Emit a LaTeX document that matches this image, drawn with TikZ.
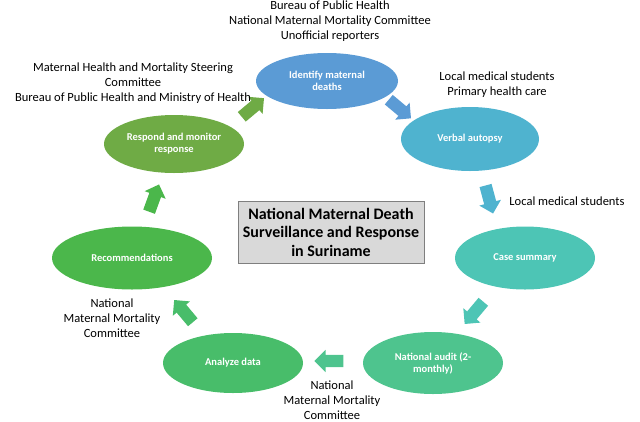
\documentclass[tikz,border=0pt]{standalone}
\usepackage{fontspec}
\setmainfont{Carlito}
\usetikzlibrary{shapes.geometric,shapes.arrows,calc}
\definecolor{cA}{HTML}{5B9BD5}
\definecolor{cB}{HTML}{4FB3CF}
\definecolor{cC}{HTML}{4DC5B5}
\definecolor{cD}{HTML}{4EC48E}
\definecolor{cE}{HTML}{48BD6A}
\definecolor{cF}{HTML}{4BB74B}
\definecolor{cG}{HTML}{6FAB45}
\definecolor{boxfill}{HTML}{D9D9D9}
\definecolor{boxline}{HTML}{7F7F7F}
\tikzset{
  ell/.style={ellipse, inner sep=0pt, draw=none, text=white, align=center,
    font=\bfseries\fontsize{10.5}{12}\selectfont},
  blk/.style={single arrow, minimum height=29pt,
    single arrow head extend=5pt, single arrow head indent=0pt,
    inner xsep=0pt, inner ysep=6pt, draw=none},
  lbl/.style={align=center, font=\fontsize{12.5}{15}\selectfont, inner sep=0pt}
}
\begin{document}
\begin{tikzpicture}[x=1pt,y=-1pt]
\useasboundingbox (0,0) rectangle (640,421);
% ellipses
\node[ell, fill=cA, minimum width=142pt, minimum height=56pt] (n1) at (327,81) {Identify maternal\\deaths};
\node[ell, fill=cB, minimum width=138pt, minimum height=64pt] (n2) at (470,139) {Verbal autopsy};
\node[ell, fill=cC, minimum width=140pt, minimum height=63pt] (n3) at (525,258) {Case summary};
\node[ell, fill=cD, minimum width=140pt, minimum height=62pt] (n4) at (433,363) {National audit (2-\\monthly)};
\node[ell, fill=cE, minimum width=140pt, minimum height=60pt] (n5) at (233,363) {Analyze data};
\node[ell, fill=cF, minimum width=160pt, minimum height=63pt] (n6) at (132,258) {Recommendations};
\node[ell, fill=cG, minimum width=140pt, minimum height=58pt] (n7) at (174,144) {Respond and monitor\\response};
% title box
\node[draw=boxline, line width=1pt, fill=boxfill, minimum width=186pt, minimum height=62pt,
  align=center, inner sep=0pt, font=\bfseries\fontsize{16}{18.5}\selectfont] (t) at (331,232)
  {National Maternal Death\\Surveillance and Response\\in Suriname};
% block arrows
\node[blk, fill=cG, rotate=40] (a7) at ($(n7)!0.5!(n1)+(0,-3)$) {};
\node[blk, fill=cA, rotate=-40] (a1) at ($(n1)!0.5!(n2)+(-1,-3)$) {};
\node[blk, fill=cB, rotate=-75] (a2) at ($(n2)!0.5!(n3)+(-9,-2)$) {};
\node[blk, fill=cC, rotate=-130] (a3) at ($(n3)!0.5!(n4)+(-3,0)$) {};
\node[blk, fill=cD, rotate=180] (a4) at ($(n4)!0.5!(n5)+(-1,-2)$) {};
\node[blk, fill=cE, rotate=130] (a5) at ($(n5)!0.5!(n6)+(3,3)$) {};
\node[blk, fill=cF, rotate=70] (a6) at ($(n6)!0.5!(n7)$) {};
% labels
\node[lbl] (l1) at (330,21) {Bureau of Public Health\\National Maternal Mortality Committee\\Unofficial reporters};
\node[lbl] (l2) at (133,83) {Maternal Health and Mortality Steering\\Committee\\Bureau of Public Health and Ministry of Health};
\node[lbl] (l3) at (497,85) {Local medical students\\Primary health care};
\node[lbl] (l4) at (567,201) {Local medical students};
\node[lbl] (l5) at (112,318) {National\\Maternal Mortality\\Committee};
\node[lbl] (l6) at (332,400) {National\\Maternal Mortality\\Committee};
\end{tikzpicture}
\end{document}
